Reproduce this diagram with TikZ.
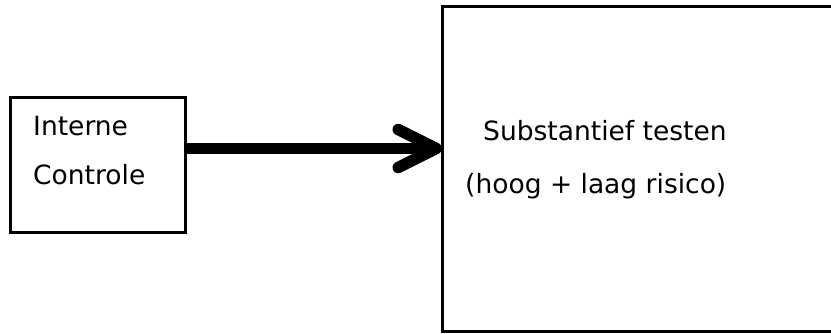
\documentclass[tikz,border=0pt]{standalone}
\usepackage{fontspec}
\setmainfont{DejaVu Sans}
\usetikzlibrary{arrows.meta}
\begin{document}
\begin{tikzpicture}[x=1pt,y=-1pt,
  box/.style={draw=black,line width=3pt,minimum width=#1,inner sep=0pt,outer sep=0pt},
  lbl/.style={anchor=base west,inner sep=0pt,font=\fontsize{26.5}{30}\selectfont},
  conn/.style={line width=11.5pt,-{Straight Barb[length=38pt,width=38pt,round]}}]
\useasboundingbox (0,0) rectangle (831,333);
\clip (0,0) rectangle (831,333);
\node[box=175pt,minimum height=135pt] (L) at (97.5,164.5) {};
\node[box=440pt,minimum height=325pt] (R) at (662,168.5) {};
\node[lbl] (t1) at (33,135) {Interne};
\node[lbl] (t2) at (33,184) {Controle};
\node[lbl] (t3) at (483,140) {Substantief testen};
\node[lbl] (t4) at (465,193) {(hoog + laag risico)};
\draw[conn] (L.east |- 0,148.5) -- (R.west |- 0,148.5);
\end{tikzpicture}
\end{document}
